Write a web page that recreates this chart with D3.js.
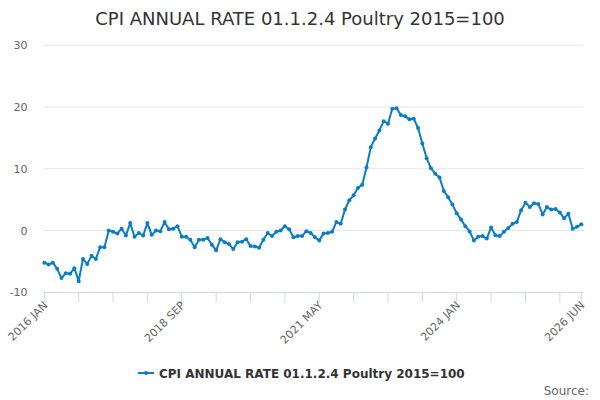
<!DOCTYPE html>
<html><head><meta charset="utf-8">
<script src="https://cdn.jsdelivr.net/npm/d3@7"></script>
<style>body{margin:0;background:#fff;}svg{display:block;font-family:"DejaVu Sans",sans-serif;}</style>
</head><body>
<svg id="c" width="600" height="400"></svg>
<script>
const title = "CPI ANNUAL RATE 01.1.2.4 Poultry 2015=100";
const seriesName = "CPI ANNUAL RATE 01.1.2.4 Poultry 2015=100";
const startYear = 2016, startMonth = 0;
const monthNames = ["JAN","FEB","MAR","APR","MAY","JUN","JUL","AUG","SEP","OCT","NOV","DEC"];
const values = [
 -5.2,-5.5,-5.2,-6.2,-7.7,-6.9,-7.0,-6.1,-8.2,-4.6,-5.4,-4.1,-4.6,-2.7,-2.7,
 0.0,-0.2,-0.5,0.3,-0.8,1.2,-1.0,-0.4,-0.8,1.2,-0.7,0.0,-0.1,1.4,0.2,0.3,0.7,
 -1.0,-1.0,-1.5,-2.7,-1.5,-1.5,-1.2,-2.3,-3.2,-1.4,-1.9,-2.2,-3.0,-1.9,-1.8,-1.4,-2.5,-2.6,-2.8,
 -1.5,-0.4,-0.9,-0.2,0.0,0.7,0.2,-1.1,-0.9,-0.9,-0.1,-0.4,-1.1,-1.6,-0.5,-0.4,-0.2,
 1.4,1.1,3.4,4.9,5.7,6.9,7.4,10.2,13.5,14.9,16.2,
 17.7,17.3,19.7,19.8,18.7,18.5,18.0,18.1,16.6,14.1,11.7,10.1,9.2,8.6,6.4,5.4,4.2,2.8,1.8,0.7,-0.15,
 -1.6,-1.0,-0.9,-1.3,0.5,-0.75,-0.9,-0.2,0.4,1.1,1.4,3.3,4.5,3.8,4.4,4.3,2.6,3.8,3.4,3.5,2.9,2.0,2.7,0.3,0.6,1.0
];
const categories = values.map((v,i)=>{const m=startMonth+i;return (startYear+Math.floor(m/12))+" "+monthNames[m%12];});
const yTicks = [-10,0,10,20,30];
const labelIdx = [0,32,64,96,125];
const tickIdx = [0,8,16,24,32,40,48,56,64,72,80,88,96,104,112,120,125];

const svg = d3.select("#c");
const x = d3.scaleLinear().domain([0, values.length-1]).range([44.3, 581.3]);
const y = d3.scaleLinear().domain([-10,30]).range([292.3, 45.2]);
const color = "#0b7dc2";

svg.append("text").attr("x",300).attr("y",25).attr("text-anchor","middle")
  .attr("font-size",18).attr("fill","#333").text(title);

// grid
svg.append("g").selectAll("line").data(yTicks.filter(t=>t!==-10)).join("line")
  .attr("x1",43.3).attr("x2",583.7).attr("y1",d=>y(d)).attr("y2",d=>y(d))
  .attr("stroke","#e6e6e6").attr("stroke-width",1);
svg.append("g").selectAll("text").data(yTicks).join("text")
  .attr("x",27.5).attr("y",d=>y(d)+4).attr("text-anchor","end")
  .attr("font-size",11).attr("fill","#666").text(d=>d);

// x axis
svg.append("line").attr("x1",43.3).attr("x2",583.7).attr("y1",292.5).attr("y2",292.5)
  .attr("stroke","#ccd6eb").attr("stroke-width",1);
svg.append("g").selectAll("line").data(tickIdx).join("line")
  .attr("x1",d=>x(d)).attr("x2",d=>x(d)).attr("y1",292.5).attr("y2",302.5)
  .attr("stroke","#ccd6eb").attr("stroke-width",1);
svg.append("g").selectAll("text").data(labelIdx).join("text")
  .attr("text-anchor","end").attr("font-size",11).attr("fill","#666")
  .attr("transform",d=>`translate(${x(d)+4},${306}) rotate(-45)`)
  .text(d=>categories[d]);

// line
const line = d3.line().x((d,i)=>x(i)).y(d=>y(d));
svg.append("path").datum(values).attr("d",line).attr("fill","none")
  .attr("stroke",color).attr("stroke-width",2).attr("stroke-linejoin","round");
svg.append("g").selectAll("circle").data(values).join("circle")
  .attr("cx",(d,i)=>x(i)).attr("cy",d=>y(d)).attr("r",2).attr("fill",color);

// legend
svg.append("line").attr("x1",138).attr("x2",154).attr("y1",373).attr("y2",373)
  .attr("stroke",color).attr("stroke-width",2);
svg.append("circle").attr("cx",146).attr("cy",373).attr("r",2).attr("fill",color);
svg.append("text").attr("x",159).attr("y",377.5).attr("font-size",12).attr("font-weight","bold")
  .attr("fill","#333").text(seriesName);
svg.append("text").attr("x",589).attr("y",395).attr("text-anchor","end")
  .attr("font-size",12).attr("fill","#666").text("Source:");
</script>
</body></html>
